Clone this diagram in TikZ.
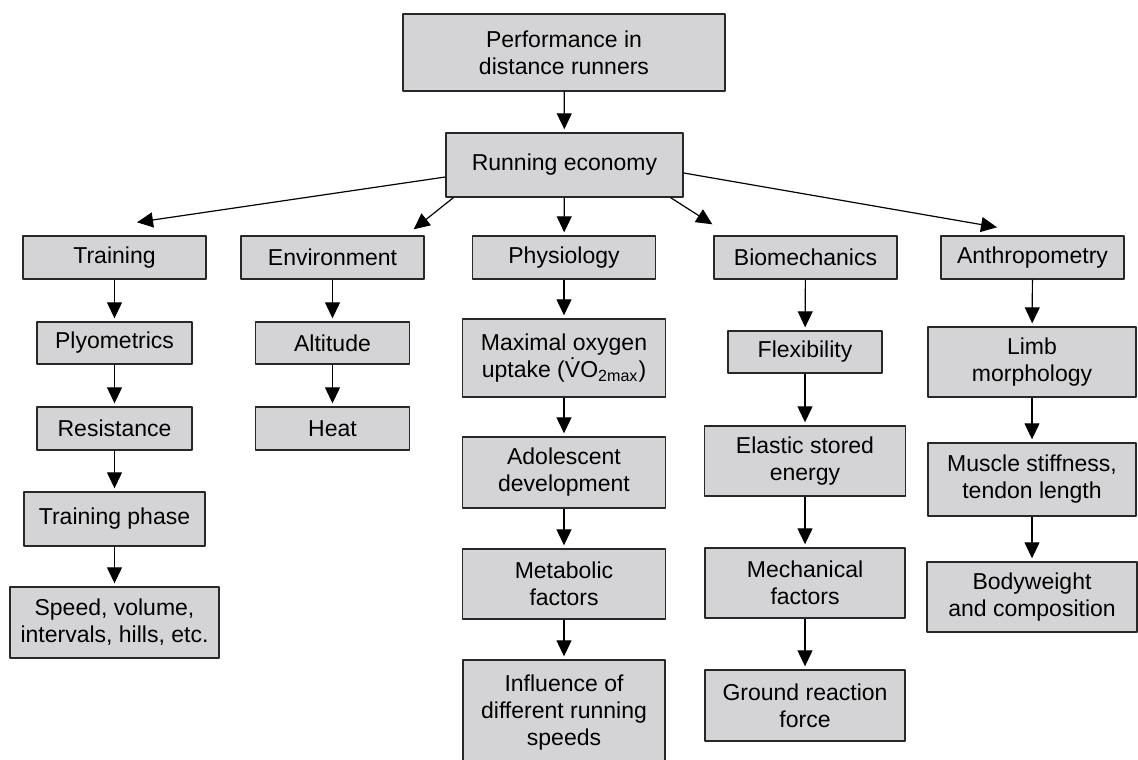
\documentclass[tikz,border=0pt]{standalone}
\usepackage{fontspec}
\setmainfont{Liberation Sans}
\usetikzlibrary{arrows.meta}
\definecolor{boxgray}{RGB}{212,212,214}
\definecolor{edgegray}{RGB}{40,40,40}
\begin{document}
\begin{tikzpicture}[x=0.5pt,y=-0.5pt,line join=round,
    >={Triangle[length=8pt,width=7.5pt]},
    font=\fontsize{11.5}{13.5}\selectfont,
    box/.style 2 args={draw=edgegray,fill=boxgray,line width=0.7pt,align=center,
        inner sep=0pt,minimum width=#1*0.5pt,minimum height=#2*0.5pt},
    link/.style={->,draw=black,line width=0.6pt,shorten >=1.5pt}]
    \useasboundingbox (0,0) rectangle (1138,759);
    % top of the tree
    \node[box={322}{77}] (perf) at (564,52.5) {Performance in\\distance runners};
    \node[box={237}{64}] (econ) at (564.5,165) {Running economy};
    % the five branches
    \node[box={183}{43}] (train) at (114.5,257.5) {Training};
    \node[box={183}{43}] (env) at (332.5,257.5) {Environment};
    \node[box={183}{43}] (phys) at (564,257.5) {Physiology};
    \node[box={183}{43}] (bio) at (805.5,257.5) {Biomechanics};
    \node[box={183}{43}] (anth) at (1032.5,257.5) {Anthropometry};
    % training
    \node[box={155}{42}] (plyo) at (114.5,343) {Plyometrics};
    \node[box={155}{43}] (resist) at (114.5,428.5) {Resistance};
    \node[box={181}{54}] (phase) at (114.5,519) {Training phase};
    \node[box={209}{71}] (speed) at (114.5,622.5) {Speed, volume,\\intervals, hills, etc.};
    % environment
    \node[box={154}{42}] (alt) at (332.5,343) {Altitude};
    \node[box={154}{43}] (heat) at (332.5,428.5) {Heat};
    % physiology
    \node[box={203}{78}] (vo2) at (564,358) {Maximal oxygen\\uptake (\.{V}O\textsubscript{2max})};
    \node[box={203}{71}] (adol) at (564,472.5) {Adolescent\\development};
    \node[box={203}{70}] (metab) at (564,584) {Metabolic\\factors};
    \node[box={202}{105}] (infl) at (564,712.5) {Influence of\\different running\\speeds};
    % biomechanics
    \node[box={154}{42}] (flex) at (805,352) {Flexibility};
    \node[box={201}{70}] (elast) at (805,461) {Elastic stored\\energy};
    \node[box={200}{70}] (mech) at (805,583) {Mechanical\\factors};
    \node[box={200}{71}] (ground) at (805,705.5) {Ground reaction\\force};
    % anthropometry
    \node[box={208}{70}] (limb) at (1032,362) {Limb\\morphology};
    \node[box={208}{73}] (muscle) at (1032,479.5) {Muscle stiffness,\\tendon length};
    \node[box={210}{70}] (body) at (1032,597) {Bodyweight\\and composition};
    % straight arrows
    \foreach \a/\b in {perf/econ,econ/phys,train/plyo,plyo/resist,resist/phase,phase/speed,
        env/alt,alt/heat,phys/vo2,vo2/adol,adol/metab,metab/infl,
        bio/flex,flex/elast,elast/mech,mech/ground,anth/limb,limb/muscle,muscle/body}
        \draw[link] (\a) -- (\b);
    % slanted arrows
    \draw[link,shorten >=0pt] ([yshift=-6pt]econ.west) -- ([xshift=11.25pt,yshift=6.5pt]train.north);
    \draw[link,shorten >=0pt] ([xshift=4pt]econ.south west) -- ([xshift=-5.5pt,yshift=3pt]env.north east);
    \draw[link,shorten >=0pt] ([xshift=-6.5pt]econ.south east) -- ([xshift=-0.5pt,yshift=5.5pt]bio.north west);
    \draw[link,shorten >=0pt] ([yshift=-4pt]econ.east) -- ([xshift=-17.75pt,yshift=4pt]anth.north);
\end{tikzpicture}
\end{document}
